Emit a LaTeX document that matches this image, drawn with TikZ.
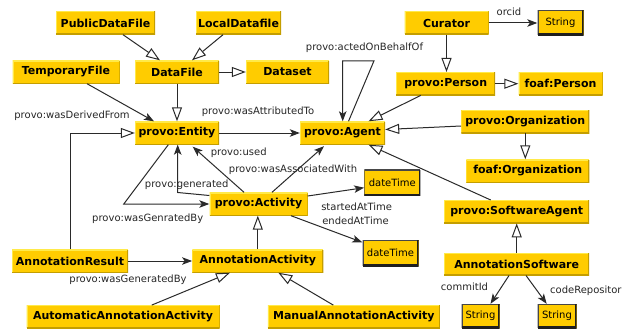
\documentclass[tikz,border=0pt]{standalone}
\usepackage{fontspec}
\setmainfont{DejaVu Sans}
\usetikzlibrary{arrows.meta,calc}

\definecolor{gold}{HTML}{FFCC00}
\definecolor{goldlight}{HTML}{FFEA4A}
\definecolor{golddark}{HTML}{C49E00}
\definecolor{edgecol}{HTML}{2A2A2A}

\tikzset{
  cls/.style={fill=gold, inner sep=0pt, minimum height=23pt,
    font=\fontsize{11}{13}\selectfont\bfseries,
    path picture={
      \draw[goldlight, line width=2pt]
        (path picture bounding box.south west) -- (path picture bounding box.north west)
        -- (path picture bounding box.north east);
      \draw[golddark, line width=2pt]
        (path picture bounding box.north east) -- (path picture bounding box.south east)
        -- (path picture bounding box.south west);
    }},
  lit/.style={fill=gold, inner sep=0pt, minimum height=25pt,
    font=\fontsize{10}{12}\selectfont,
    path picture={
      \draw[black!72, line width=2.2pt]
        (path picture bounding box.south west) -- (path picture bounding box.north west)
        -- (path picture bounding box.north east);
      \draw[black!88, line width=3.4pt]
        (path picture bounding box.north east) -- (path picture bounding box.south east)
        -- (path picture bounding box.south west);
    }},
  lbl/.style={inner sep=0pt, font=\fontsize{10}{12}\selectfont, text=black!85},
  isa/.style={draw=edgecol, line width=1pt,
    -{Triangle[open,fill=white,length=14pt,width=10pt]}},
  rel/.style={draw=edgecol, line width=1pt,
    -{Stealth[length=10pt,width=7.5pt,inset=2.5pt]}},
}

\begin{document}
\begin{tikzpicture}[x=1pt,y=-1pt]
\useasboundingbox[fill=white] (0,0) rectangle (623,329);

% classes
\node[cls, minimum width=99pt]  (pdf)  at (105.5,23)   {PublicDataFile};
\node[cls, minimum width=85pt]  (ldf)  at (238.5,23)   {LocalDatafile};
\node[cls, minimum width=107pt] (tmp)  at (66,72)      {TemporaryFile};
\node[cls, minimum width=84pt]  (df)   at (177,72)     {DataFile};
\node[cls, minimum width=83pt]  (ds)   at (287.5,72)   {Dataset};
\node[cls, minimum width=84pt]  (ent)  at (177,133)    {provo:Entity};
\node[cls, minimum width=85pt]  (agt)  at (342.5,133)  {provo:Agent};
\node[cls, minimum width=84pt]  (cur)  at (446.5,23)   {Curator};
\node[cls, minimum width=99pt]  (per)  at (445.7,83.7) {provo:Person};
\node[cls, minimum width=84pt]  (fper) at (560.5,83.7) {foaf:Person};
\node[cls, minimum width=128pt] (org)  at (525.3,121.7){provo:Organization};
\node[cls, minimum width=123pt] (forg) at (527.8,171)  {foaf:Organization};
\node[cls, minimum width=98pt]  (act)  at (258.5,204)  {provo:Activity};
\node[cls, minimum width=145pt] (sw)   at (516.7,211.7){provo:SoftwareAgent};
\node[cls, minimum width=145pt, minimum height=22pt] (asw) at (516.7,264.3) {AnnotationSoftware};
\node[cls, minimum width=116pt] (ar)   at (70,261)     {AnnotationResult};
\node[cls, minimum width=131pt] (aa)   at (257.8,261)  {AnnotationActivity};
\node[cls, minimum width=193pt] (aaa)  at (123,316.8)  {AutomaticAnnotationActivity};
\node[cls, minimum width=172pt] (maa)  at (353.8,316.8){ManualAnnotationActivity};

% literal types
\node[lit, minimum width=46pt] (s1)  at (560.5,22.7) {String};
\node[lit, minimum width=56pt, minimum height=26pt] (dt1) at (392.3,182.8) {dateTime};
\node[lit, minimum width=56pt, minimum height=26pt] (dt2) at (390.5,253)   {dateTime};
\node[lit, minimum width=38pt, minimum height=24pt] (s2)  at (480.5,316)   {String};
\node[lit, minimum width=39pt, minimum height=24pt] (s3)  at (557,316)     {String};

% subclass links
\draw[isa] ($(pdf.south)+(17.5,0)$) -- ($(df.north)+(-17,0)$);
\draw[isa] ($(ldf.south)+(-15.5,0)$) -- ($(df.north)+(15,0)$);
\draw[isa] (df.east) -- (ds.west);
\draw[isa] (df.south) -- (ent.north);
\draw[isa] (ar.north) |- (ent.west);
\draw[isa] (cur.south) -- (cur.south |- per.north);
\draw[isa] (per.east) -- (fper.west);
\draw[isa] ($(per.south)+(-25,0)$) -- ($(agt.north)+(26,0)$);
\draw[isa] ($(org.west)+(0,4.3)$) -- ($(agt.east)+(0,-3.5)$);
\draw[isa] (org.south) -- (org.south |- forg.north);
\draw[isa] ($(sw.north)+(-26,0)$) -- ($(agt.south)+(26,0)$);
\draw[isa] (asw.north) -- (sw.south);
\draw[isa] (aa.north) -- (aa.north |- act.south);
\draw[isa] ($(aaa.north)+(28.7,0)$) -- ($(aa.south)+(-27.8,0)$);
\draw[isa] ($(maa.north)+(-20.5,0)$) -- ($(aa.south)+(20.5,0)$);

% properties
\draw[rel] ($(tmp.south)+(21,0)$) -- ($(ent.north)+(-23,0)$);
\draw[rel] (ent.east) -- (agt.west);
\draw[rel] ($(agt.north)+(6,0)$) -- ($(agt.north)+(31.5,-60.5)$)
           -- ($(agt.north)+(0.2,-60.5)$) -- ($(agt.north)+(0.2,0)$);
\draw[rel] (cur.east) -- (cur.east -| s1.west);
\draw[rel] ($(act.north)+(-14.5,0)$) -- ($(ent.south)+(15.7,2)$);
\draw[rel] ($(act.north)+(13.5,0)$) -- ($(agt.south)+(-18.5,1.5)$);
\draw[rel] ($(act.west)+(0,-8.5)$) -- ($(ent.south)+(0.7,47.8)$) -- ($(ent.south)+(0.7,0)$);
\draw[rel] ($(ent.south)+(-8.7,0)$) -- ($(act.west)+(-85.5,0)$) -- (act.west);
\draw[rel] ($(act.east)+(0,-8)$) -- ($(dt1.west)+(0,4.9)$);
\draw[rel] ($(act.south)+(32.5,0)$) -- ($(dt2.west)+(0,-10.7)$);
\draw[rel] (ar.east) -- (aa.west);
\draw[rel] ($(asw.south)+(-7.7,0)$) -- ($(s2.north)+(10,0)$);
\draw[rel] ($(asw.south)+(9.3,0)$) -- ($(s3.north)+(-10.3,0)$);

% property names
\node[lbl] (lDerived)   at (72,115.5)   {provo:wasDerivedFrom};
\node[lbl] (lAttrib)    at (258,111.5)  {provo:wasAttributedTo};
\node[lbl] (lBehalf)    at (364.5,48)   {provo:actedOnBehalfOf};
\node[lbl] (lOrcid)     at (509,11.7)   {orcid};
\node[lbl] (lUsed)      at (238.7,153)  {provo:used};
\node[lbl] (lAssoc)     at (293,169.5)  {provo:wasAssociatedWith};
\node[lbl] (lGenerated) at (186.7,184.5){provo:generated};
\node[lbl] (lGenBy)     at (147.7,219)  {provo:wasGenratedBy};
\node[lbl] (lStarted)   at (356.7,207)  {startedAtTime};
\node[lbl] (lEnded)     at (355.5,221)  {endedAtTime};
\node[lbl] (lCommit)    at (464.5,287)  {commitId};
\node[lbl, anchor=west] (lRepo) at (550,290.5) {codeRepositor};
\node[lbl] (lGenBy2)    at (128,280)    {provo:wasGeneratedBy};
\end{tikzpicture}
\end{document}
